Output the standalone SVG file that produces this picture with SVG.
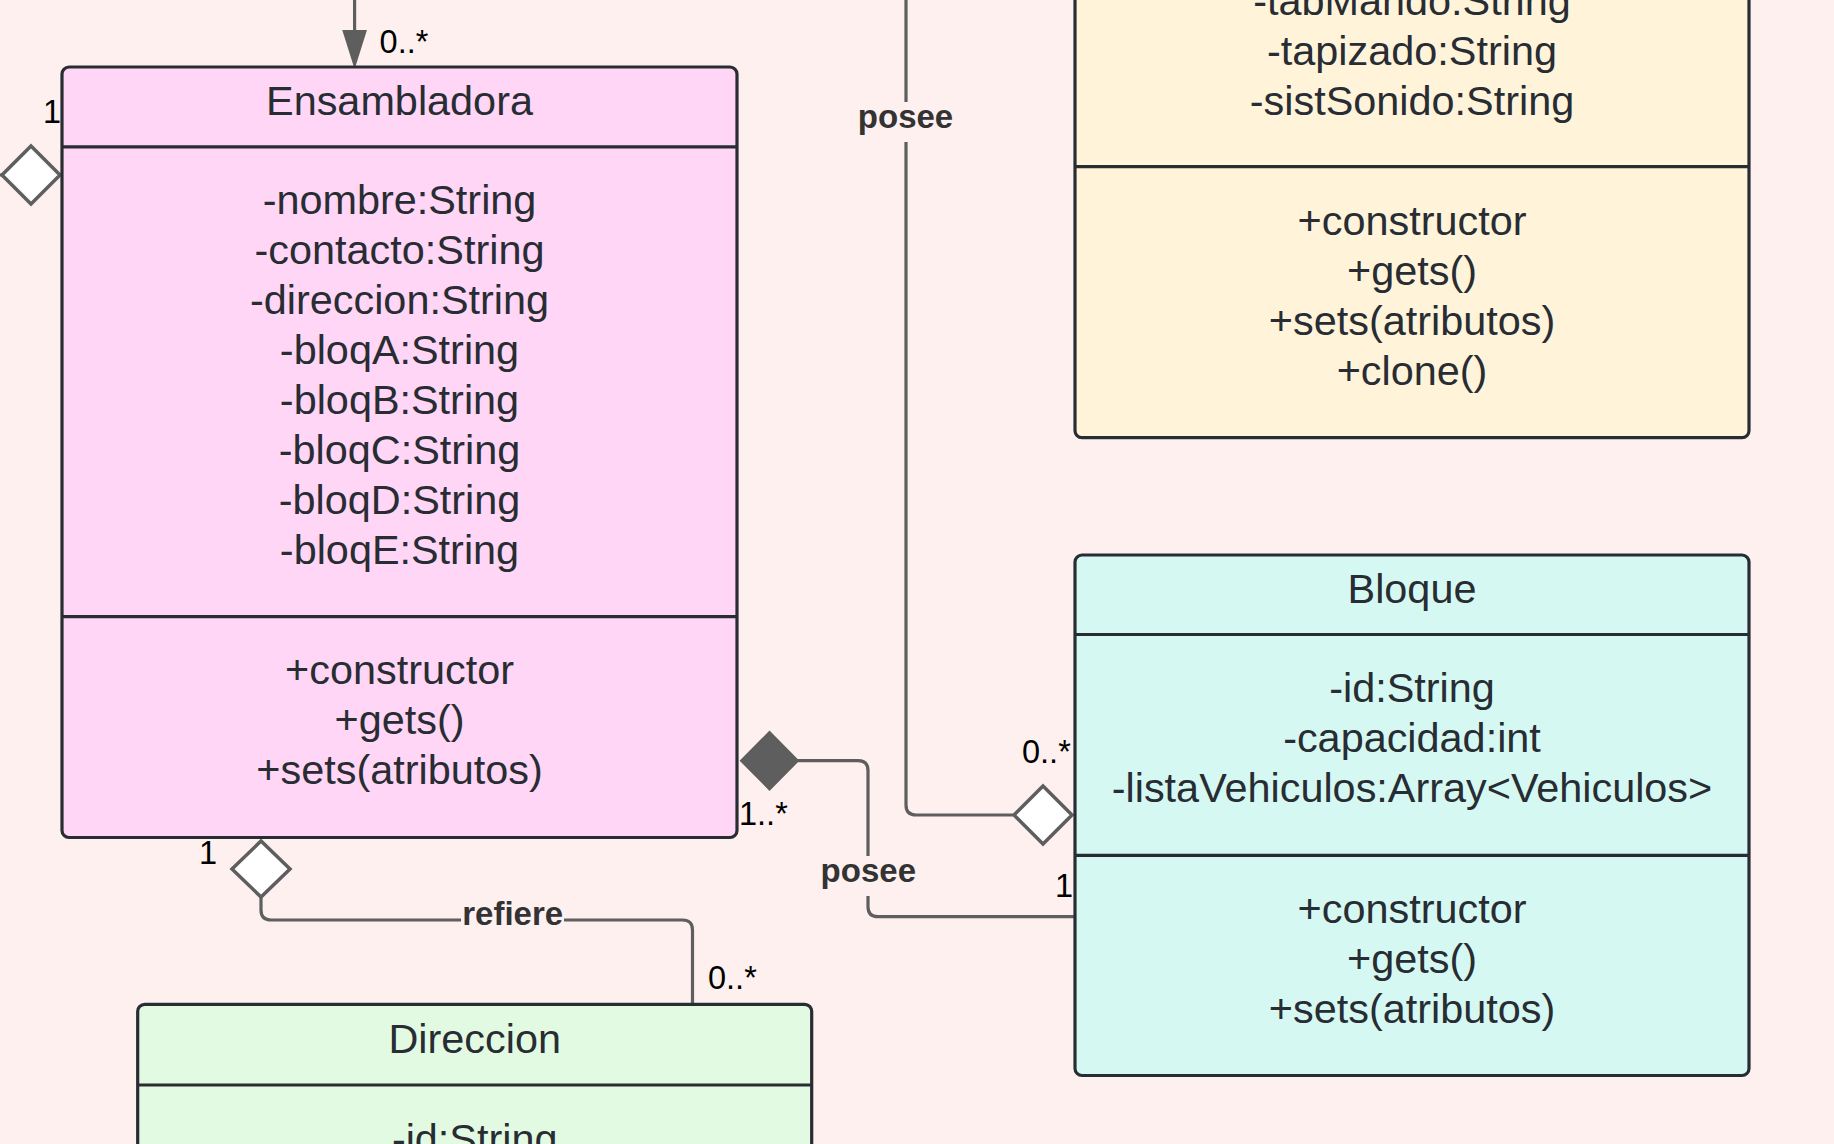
<svg xmlns="http://www.w3.org/2000/svg" width="1834" height="1144" viewBox="0 0 1834 1144">
<style>
.box{stroke:#282c33;stroke-width:3.2}
.div{stroke:#282c33;stroke-width:3.2;fill:none}
.t{font-family:"Liberation Sans",Arial,sans-serif;font-size:41.4px;fill:#282c33;text-anchor:middle}
.m{font-family:"Liberation Sans",Arial,sans-serif;font-size:32.5px;fill:#000}
.lbl{font-family:"Liberation Sans",Arial,sans-serif;font-size:33px;font-weight:bold;fill:#333;text-anchor:middle}
.ln{stroke:#5e5e5e;stroke-width:3.2;fill:none}
.hd{fill:#fff;stroke:#5e5e5e;stroke-width:3.5}
.fd{fill:#5e5e5e;stroke:#5e5e5e;stroke-width:2}
</style>
<rect x="0" y="0" width="1834" height="1144" fill="#fff0f0"/>

<g id="connectors">
  <!-- arrow into Ensambladora from above -->
  <line class="ln" x1="354.6" y1="-10" x2="354.6" y2="34"/>
  <polygon class="fd" points="343.6,31 365.6,31 354.6,66"/>
  <!-- left aggregation into Ensambladora -->
  <line class="ln" x1="-20" y1="175" x2="2" y2="175"/>
  <polygon class="hd" points="2,175 31,146 60,175 31,204"/>
  <!-- posee (top) to Bloque -->
  <path class="ln" d="M906,-10 V102 M906,142 V805 Q906,815 916,815 H1013"/>
  <polygon class="hd" points="1014,815 1043,786 1072,815 1043,844"/>
  <text class="lbl" x="905.5" y="127.7">posee</text>
  <!-- posee (composition) Ensambladora - Bloque -->
  <polygon class="fd" points="741,760.7 769.5,732 798,760.7 769.5,789.5"/>
  <path class="ln" d="M798,760.7 H858 Q868,760.7 868,770.7 V856 M868,896 V906.7 Q868,916.7 878,916.7 H1075"/>
  <text class="lbl" x="868.3" y="881.7">posee</text>
  <!-- refiere Ensambladora - Direccion -->
  <polygon class="hd" points="232,869 261,841 290,869 261,897"/>
  <path class="ln" d="M261,897 V910 Q261,920 271,920 H461 M564,920 H682.5 Q692.5,920 692.5,930 V1004"/>
  <text class="lbl" x="512.7" y="925">refiere</text>
  <!-- multiplicities -->
  <text class="m" x="379.6" y="52.9">0..*</text>
  <text class="m" x="43" y="123.2">1</text>
  <text class="m" x="739" y="825">1..*</text>
  <text class="m" x="199" y="864">1</text>
  <text class="m" x="708" y="989">0..*</text>
  <text class="m" x="1022" y="762.7">0..*</text>
  <text class="m" x="1055" y="896.7">1</text>
</g>

<g id="Ensambladora">
  <rect class="box" x="62" y="67" width="675" height="770.5" rx="7" fill="#ffd6f5"/>
  <line class="div" x1="62" y1="146.8" x2="737" y2="146.8"/>
  <line class="div" x1="62" y1="616.6" x2="737" y2="616.6"/>
  <text class="t" x="399.5" y="115.4">Ensambladora</text>
  <text class="t" x="399.5" y="214.3">-nombre:String</text>
  <text class="t" x="399.5" y="264.3">-contacto:String</text>
  <text class="t" x="399.5" y="314.3">-direccion:String</text>
  <text class="t" x="399.5" y="364.3">-bloqA:String</text>
  <text class="t" x="399.5" y="414.3">-bloqB:String</text>
  <text class="t" x="399.5" y="464.3">-bloqC:String</text>
  <text class="t" x="399.5" y="514.3">-bloqD:String</text>
  <text class="t" x="399.5" y="564.3">-bloqE:String</text>
  <text class="t" x="399.5" y="684">+constructor</text>
  <text class="t" x="399.5" y="734">+gets()</text>
  <text class="t" x="399.5" y="784">+sets(atributos)</text>
</g>

<g id="Vehiculo">
  <rect class="box" x="1075" y="-300" width="674" height="737.7" rx="7" fill="#fff3da"/>
  <line class="div" x1="1075" y1="166.7" x2="1749" y2="166.7"/>
  <text class="t" x="1412" y="15">-tabMando:String</text>
  <text class="t" x="1412" y="65">-tapizado:String</text>
  <text class="t" x="1412" y="115">-sistSonido:String</text>
  <text class="t" x="1412" y="235">+constructor</text>
  <text class="t" x="1412" y="285">+gets()</text>
  <text class="t" x="1412" y="335">+sets(atributos)</text>
  <text class="t" x="1412" y="385">+clone()</text>
</g>

<g id="Bloque">
  <rect class="box" x="1075" y="555" width="674" height="520.5" rx="7" fill="#d5f9f2"/>
  <line class="div" x1="1075" y1="634.5" x2="1749" y2="634.5"/>
  <line class="div" x1="1075" y1="855.3" x2="1749" y2="855.3"/>
  <text class="t" x="1412" y="603">Bloque</text>
  <text class="t" x="1412" y="702">-id:String</text>
  <text class="t" x="1412" y="752">-capacidad:int</text>
  <text class="t" x="1412" y="802">-listaVehiculos:Array&lt;Vehiculos&gt;</text>
  <text class="t" x="1412" y="922.7">+constructor</text>
  <text class="t" x="1412" y="972.7">+gets()</text>
  <text class="t" x="1412" y="1022.7">+sets(atributos)</text>
</g>

<g id="Direccion">
  <rect class="box" x="137.7" y="1004.3" width="674" height="400" rx="7" fill="#e2fae1"/>
  <line class="div" x1="137.7" y1="1085" x2="811.7" y2="1085"/>
  <text class="t" x="474.7" y="1052.7">Direccion</text>
  <text class="t" x="474.7" y="1152.5">-id:String</text>
</g>
</svg>
